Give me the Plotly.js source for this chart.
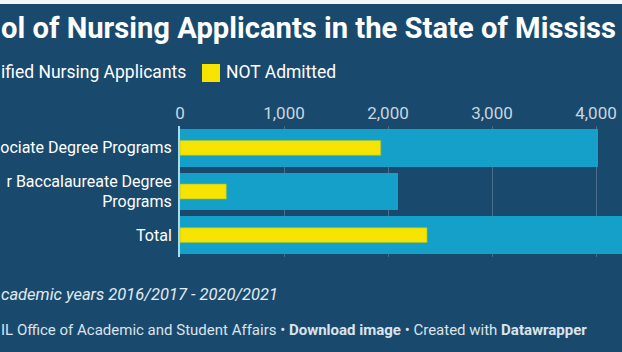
<!DOCTYPE html>
<html>
<head>
<meta charset="utf-8">
<script src="https://cdn.plot.ly/plotly-3.0.1.min.js"></script>
<style>
html,body{margin:0;padding:0;background:#ffffff;overflow:hidden;}
#chart{width:622px;height:352px;}
</style>
</head>
<body>
<div id="chart"></div>
<script>
// ---- data (as visible in the cropped reference) ----
const categories = ["ociate Degree Programs", "r Baccalaureate Degree<br>Programs", "Total"];
const qualifiedApplicants = [4020, 2100, 6120];
const notAdmitted = [1930, 445, 2375];
const legendLabels = ["ified Nursing Applicants", "NOT Admitted"];
const tickValues = [0, 1000, 2000, 3000, 4000];
const tickLabels = ["0", "1,000", "2,000", "3,000", "4,000"];
const titleText = "ol of Nursing Applicants in the State of Mississ";
const notesText = "cademic years 2016/2017 - 2020/2021";
const footerText = "IL Office of Academic and Student Affairs \u2022 <b>Download image</b> \u2022 Created with <b>Datawrapper</b>";

// ---- style ----
const BG = "#194a6e";
const CYAN = "#14a0c9";
const YELLOW = "#f6e300";
const FONT = "Roboto, 'Open Sans', sans-serif";

const L = 180, T = 126, W = 442, H = 131;
const px = x => (x - L) / W;
const py = y => (T + H - y) / H;

const traces = [
  {
    type: "bar", orientation: "h",
    y: categories, x: qualifiedApplicants,
    name: legendLabels[0],
    marker: {color: CYAN},
    width: 0.86,
    hoverinfo: "x"
  },
  {
    type: "bar", orientation: "h",
    y: categories, x: notAdmitted,
    name: legendLabels[1],
    marker: {color: YELLOW, line: {color: "#9cc43a", width: 0.6}},
    width: 0.34,
    hoverinfo: "x"
  }
];

const layout = {
  width: 622, height: 352,
  margin: {l: L, r: 622 - L - W, t: T, b: 352 - T - H, autoexpand: false},
  paper_bgcolor: BG, plot_bgcolor: BG,
  barmode: "overlay",
  bargap: 0,
  showlegend: false,
  font: {family: FONT, color: "#ffffff"},
  xaxis: {
    side: "top",
    range: [0, 4250],
    tickvals: tickValues, ticktext: tickLabels,
    ticks: "", ticklabelstandoff: 3,
    tickfont: {family: FONT, size: 17, color: "#c9d5df"},
    showgrid: true, gridcolor: "#4b6f8c", gridwidth: 1,
    zeroline: false, showline: false, fixedrange: true
  },
  yaxis: {
    type: "category",
    autorange: "reversed",
    ticks: "", ticklabelstandoff: 3,
    tickfont: {family: FONT, size: 16, color: "#ffffff"},
    showgrid: false, zeroline: false,
    showline: true, linecolor: "#a6dcec", linewidth: 2,
    automargin: false, fixedrange: true
  },
  shapes: [
    {type: "rect", xref: "paper", yref: "paper", x0: px(-5), x1: px(630), y0: py(4), y1: py(-5),
     fillcolor: "#f4f6f7", line: {width: 0}, layer: "above"},
    {type: "rect", xref: "paper", yref: "paper", x0: px(202), x1: px(220), y0: py(82), y1: py(64),
     fillcolor: YELLOW, line: {width: 0}}
  ],
  annotations: [
    {text: "<b>" + titleText + "</b>", xref: "paper", yref: "paper", x: px(-1), y: py(28),
     xanchor: "left", yanchor: "middle", showarrow: false,
     font: {family: FONT, size: 29.2, color: "#ffffff"}},
    {text: legendLabels[0], xref: "paper", yref: "paper", x: px(-1), y: py(72),
     xanchor: "left", yanchor: "middle", showarrow: false,
     font: {family: FONT, size: 17.5, color: "#ffffff"}},
    {text: legendLabels[1], xref: "paper", yref: "paper", x: px(224), y: py(72),
     xanchor: "left", yanchor: "middle", showarrow: false,
     font: {family: FONT, size: 17.5, color: "#ffffff"}},
    {text: "<i>" + notesText + "</i>", xref: "paper", yref: "paper", x: px(-1), y: py(294),
     xanchor: "left", yanchor: "middle", showarrow: false,
     font: {family: FONT, size: 16.5, color: "#e3eaf0"}},
    {text: footerText, xref: "paper", yref: "paper", x: px(-1), y: py(330),
     xanchor: "left", yanchor: "middle", showarrow: false,
     font: {family: FONT, size: 15, color: "#dbe3ea"}}
  ]
};

Plotly.newPlot("chart", traces, layout, {displayModeBar: false, staticPlot: true});
</script>
</body>
</html>
